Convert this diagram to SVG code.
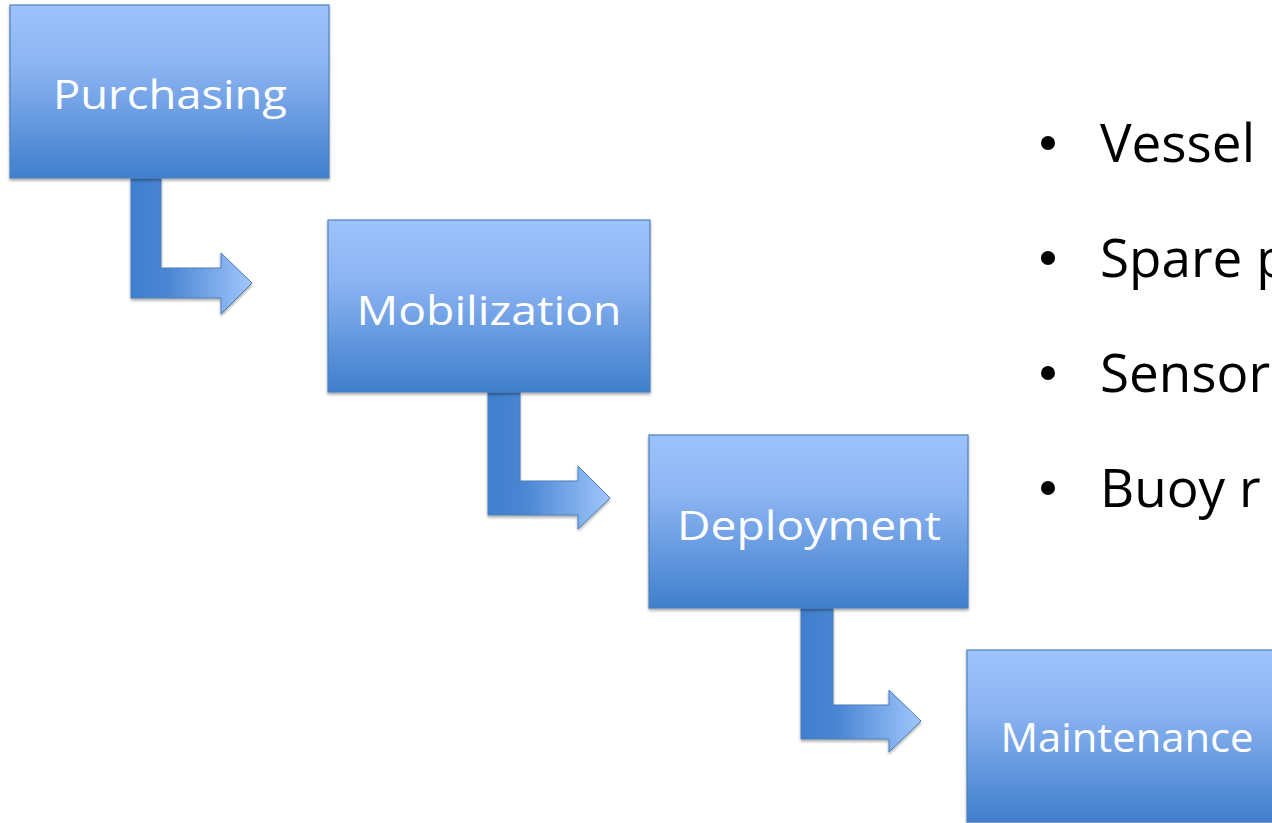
<svg xmlns="http://www.w3.org/2000/svg" width="1272" height="823" viewBox="0 0 1272 823">
<defs>
<linearGradient id="boxg" x1="0" y1="0" x2="0" y2="1">
<stop offset="0" stop-color="#9dc3fc"/>
<stop offset="0.35" stop-color="#8cb4f2"/>
<stop offset="1" stop-color="#3f7fcd"/>
</linearGradient>
<linearGradient id="arrg" x1="0" y1="0" x2="1" y2="0">
<stop offset="0" stop-color="#3f7fcd"/>
<stop offset="0.3" stop-color="#4a86d3"/>
<stop offset="1" stop-color="#a0c6fc"/>
</linearGradient>
<filter id="sh" x="-10%" y="-10%" width="120%" height="120%">
<feGaussianBlur in="SourceAlpha" stdDeviation="1.5"/>
<feOffset dx="0" dy="2" result="b"/>
<feComponentTransfer><feFuncA type="linear" slope="0.35"/></feComponentTransfer>
<feMerge><feMergeNode/><feMergeNode in="SourceGraphic"/></feMerge>
</filter>
</defs>
<style>
.box{fill:url(#boxg);stroke:#4f81bd;stroke-width:1.2;filter:url(#sh)}
.arr{fill:url(#arrg);stroke:#4a7ebb;stroke-width:1;filter:url(#sh)}
.lbl{font-family:"Open Sans","Noto Sans",sans-serif;font-size:40px;fill:#ffffff;text-anchor:middle}
.bul{font-family:"Open Sans","Noto Sans",sans-serif;font-size:53px;fill:#000000}
</style>
<rect width="1272" height="823" fill="#ffffff"/>
<g id="connectors">
<path class="arr" d="M131,178 L161,178 L161,268 L221,268 L221,253 L252,283 L221,314 L221,298 L131,298 Z"/>
<path class="arr" d="M488,392 L520,392 L520,481 L578,481 L578,466 L610,498 L578,529 L578,515 L488,515 Z"/>
<path class="arr" d="M801,608 L833,608 L833,705 L889,705 L889,690 L921,721 L889,752 L889,739 L801,739 Z"/>
</g>
<g id="purchasing">
<rect class="box" x="10" y="5" width="319" height="173"/>
<text class="lbl" x="170" y="109" textLength="234" lengthAdjust="spacingAndGlyphs">Purchasing</text>
</g>
<g id="mobilization">
<rect class="box" x="328" y="220" width="322" height="172"/>
<text class="lbl" x="489" y="325" textLength="265" lengthAdjust="spacingAndGlyphs">Mobilization</text>
</g>
<g id="deployment">
<rect class="box" x="649" y="435" width="319" height="173"/>
<text class="lbl" x="809" y="540" textLength="264" lengthAdjust="spacingAndGlyphs">Deployment</text>
</g>
<g id="maintenance">
<rect class="box" x="967" y="650" width="320" height="172"/>
<text class="lbl" x="1127" y="752" textLength="253" lengthAdjust="spacingAndGlyphs">Maintenance</text>
</g>
<g id="bullets">
<circle cx="1048" cy="143" r="7" fill="#000"/>
<text class="bul" x="1100" y="162">Vessel</text>
<circle cx="1048" cy="258" r="7" fill="#000"/>
<text class="bul" x="1100" y="277">Spare p</text>
<circle cx="1048" cy="373" r="7" fill="#000"/>
<text class="bul" x="1100" y="392">Sensor</text>
<circle cx="1048" cy="488" r="7" fill="#000"/>
<text class="bul" x="1100" y="507">Buoy r</text>
</g>
</svg>
